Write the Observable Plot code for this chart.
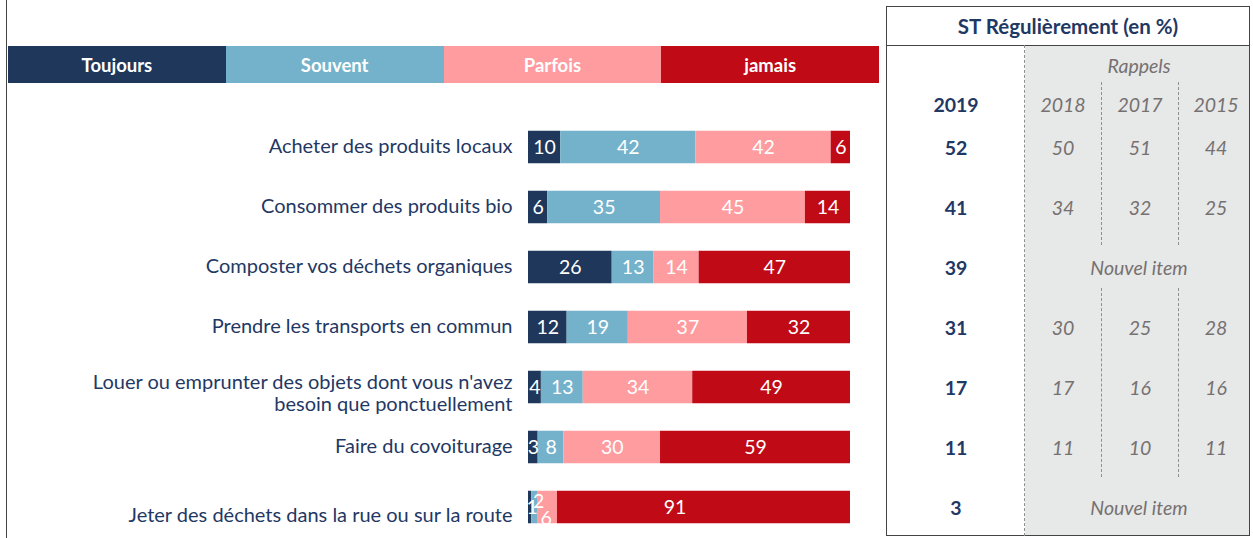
<!DOCTYPE html>
<html>
<head>
<meta charset="utf-8">
<script src="https://cdn.jsdelivr.net/npm/d3@7"></script>
<script src="https://cdn.jsdelivr.net/npm/@observablehq/plot@0.6"></script>
<style>
  html, body { margin: 0; padding: 0; background: #fff; }
  #wrap { position: relative; width: 1253px; height: 538px; overflow: hidden; font-family: Lato, "Open Sans", sans-serif; }
  #wrap svg { position: absolute; left: 0; top: 0; }
  .leftline { position: absolute; left: 6px; top: 0; width: 0; height: 538px; border-left: 1.5px solid #444; }
  #legend { position: absolute; left: 8px; top: 46px; width: 871px; height: 37px; display: flex; }
  #legend div { flex: 1; color: #fff; font-weight: 700; font-size: 18.5px; display: flex; align-items: center; justify-content: center; }
  #table { position: absolute; left: 886px; top: 6px; width: 364px; height: 530px; border: 1.5px solid #444; box-sizing: border-box; }
  #thead { position: absolute; left: 0; top: 0; right: 0; height: 38px; border-bottom: 1.5px solid #444; display: flex; align-items: center; justify-content: center; color: #1f3864; font-weight: 700; font-size: 20.5px; }
  #grey { position: absolute; left: 1025px; top: 45px; width: 225px; height: 491px; background: #e7e8e8; }
  .dash { position: absolute; width: 0; border-left: 1.5px dashed #8f8f8f; }
  .t { position: absolute; transform: translate(-50%, -50%); white-space: nowrap; font-size: 19.5px; line-height: 1; }
  .cur { color: #1f3864; font-weight: 700; }
  .old { color: #767171; font-style: italic; }
</style>
</head>
<body>
<div id="wrap">
  <div id="grey"></div>
  <div class="leftline"></div>
  <div id="legend"></div>
  <div id="table"><div id="thead"></div></div>
</div>
<script>
// ---- data ----
const categories = [
  "Acheter des produits locaux",
  "Consommer des produits bio",
  "Composter vos déchets organiques",
  "Prendre les transports en commun",
  "Louer ou emprunter des objets dont vous n'avez\nbesoin que ponctuellement",
  "Faire du covoiturage",
  "Jeter des déchets dans la rue ou sur la route"
];
const seriesNames = ["Toujours", "Souvent", "Parfois", "jamais"];
const seriesColors = ["#1e375b", "#74b2cb", "#fe9c9f", "#c00a16"];
const toujours = [10, 6, 26, 12, 4, 3, 1];
const souvent  = [42, 35, 13, 19, 13, 8, 2];
const parfois  = [42, 45, 14, 37, 34, 30, 6];
const jamais   = [6, 14, 47, 32, 49, 59, 91];

const tableTitle = "ST Régulièrement (en %)";
const rappelsLabel = "Rappels";
const newItemLabel = "Nouvel item";
const yearCurrent = "2019";
const yearsPast = ["2018", "2017", "2015"];
const st2019 = [52, 41, 39, 31, 17, 11, 3];
const st2018 = [50, 34, null, 30, 17, 11, null];
const st2017 = [51, 32, null, 25, 16, 10, null];
const st2015 = [44, 25, null, 28, 16, 11, null];

// ---- build tidy table ----
const seriesValues = [toujours, souvent, parfois, jamais];
const rows = [];
categories.forEach((c, i) => {
  seriesNames.forEach((s, j) => rows.push({cat: c, idx: i, series: s, value: seriesValues[j][i]}));
});

const FONT = "Lato, 'Open Sans', sans-serif";
const labelNavy = "#1f3864";

const main = rows.filter(d => d.idx !== 6);
const last = rows.filter(d => d.idx === 6);
const lastOffsets = {Toujours: [2, 0], Souvent: [7, -6], Parfois: [8, 11], jamais: [0, 0]};

const chart = Plot.plot({
  width: 1253,
  height: 538,
  margin: 0,
  style: {fontFamily: FONT, background: "transparent", overflow: "visible"},
  x: {domain: [0, 100], range: [528, 850], axis: null},
  y: {domain: categories, range: [115.25, 538.75], padding: 0, axis: null},
  color: {domain: seriesNames, range: seriesColors},
  marks: [
    Plot.barX(rows, Plot.stackX({x: "value", y: "cat", fill: "series", order: seriesNames, insetTop: 13.75, insetBottom: 13.75})),
    Plot.text(main, Plot.stackX({x: "value", y: "cat", z: "series", order: seriesNames, text: d => String(d.value), fill: "white", fontSize: 19.5})),
    ...seriesNames.map(s => Plot.text(last.filter(d => d.series === s), Plot.stackX({
      x: "value", y: "cat", z: "series", order: seriesNames, text: d => String(d.value), fill: "white", fontSize: 19.5,
      dx: lastOffsets[s][0], dy: lastOffsets[s][1]
    }))),
    // category labels
    Plot.text(categories.slice(0, 4).concat([categories[5]]), {x: 0, y: d => d, text: d => d, textAnchor: "end", dx: -16, dy: -1, fill: labelNavy, fontSize: 20}),
    Plot.text([categories[4]], {x: 0, y: d => d, text: d => d, textAnchor: "end", dx: -16, dy: 5, fill: labelNavy, fontSize: 20, lineHeight: 1.1}),
    Plot.text([categories[6]], {x: 0, y: d => d, text: d => d, textAnchor: "end", dx: -16, dy: 8, fill: labelNavy, fontSize: 20})
  ]
});
document.getElementById("wrap").insertBefore(chart, document.querySelector(".leftline"));

// ---- legend ----
const legend = document.getElementById("legend");
seriesNames.forEach((s, j) => {
  const d = document.createElement("div");
  d.textContent = s;
  d.style.background = seriesColors[j];
  legend.appendChild(d);
});

// ---- table ----
document.getElementById("thead").textContent = tableTitle;
const wrap = document.getElementById("wrap");
const y = chart.scale("y");
const rowY = c => y.apply(c) + y.bandwidth / 2;
function addText(txt, x, yy, cls) {
  const d = document.createElement("div");
  d.className = "t " + cls;
  d.textContent = txt;
  d.style.left = x + "px";
  d.style.top = yy + "px";
  wrap.appendChild(d);
}
function addDash(x, y0, y1) {
  const d = document.createElement("div");
  d.className = "dash";
  d.style.left = x + "px";
  d.style.top = y0 + "px";
  d.style.height = (y1 - y0) + "px";
  wrap.appendChild(d);
}
const colX = [956, 1063, 1140, 1216];
addText(rappelsLabel, 1139, 66, "old");
addText(yearCurrent, colX[0], 105, "cur");
yearsPast.forEach((yr, k) => addText(yr, colX[k + 1], 105, "old"));
const past = [st2018, st2017, st2015];
categories.forEach((c, i) => {
  const yy = rowY(c) + 1;
  addText(String(st2019[i]), colX[0], yy, "cur");
  if (st2018[i] == null) {
    addText(newItemLabel, 1139, yy, "old");
  } else {
    past.forEach((arr, k) => addText(String(arr[i]), colX[k + 1], yy, "old"));
  }
});
addDash(1024, 45, 536);
[1101, 1178].forEach(x => { addDash(x, 82, 245); addDash(x, 288, 477); });
</script>
</body>
</html>
